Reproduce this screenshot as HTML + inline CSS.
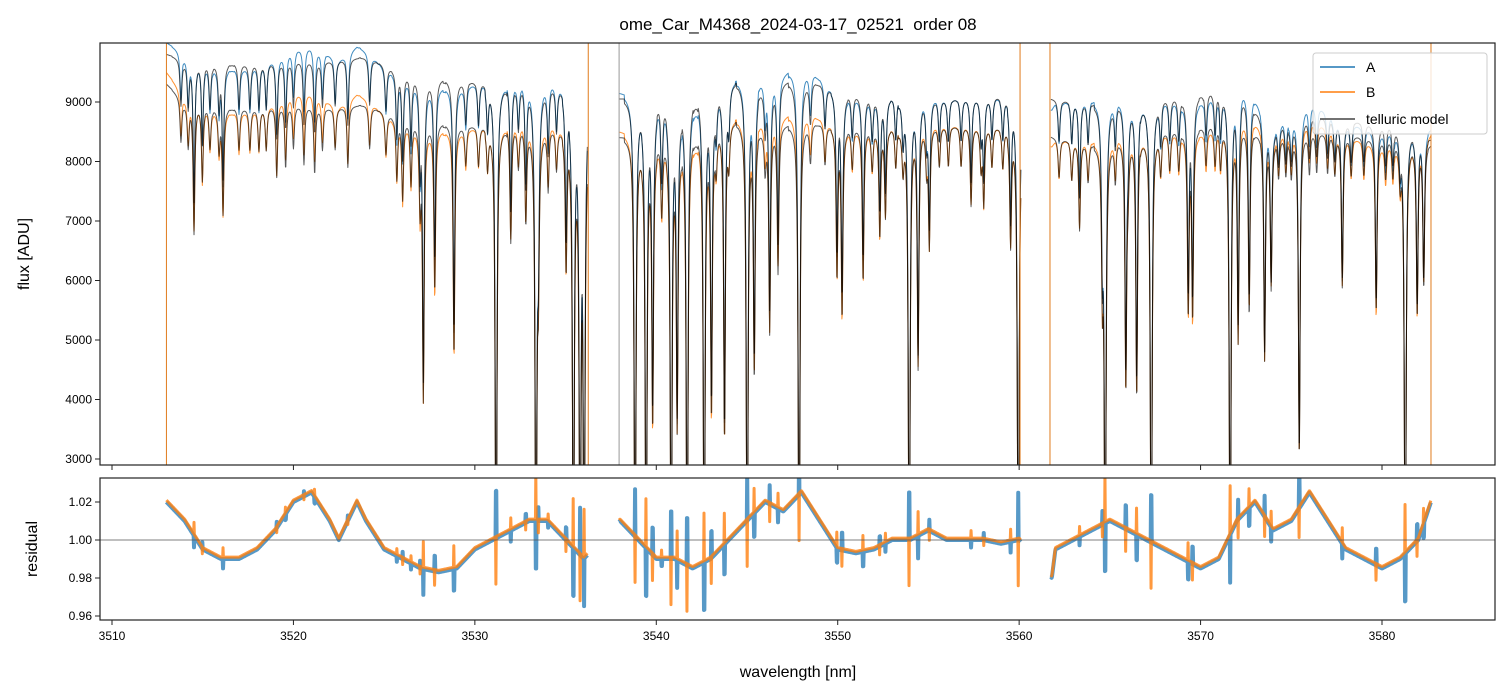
<!DOCTYPE html>
<html><head><meta charset="utf-8">
<style>
html,body{margin:0;padding:0;background:#fff;}
svg{display:block;font-family:"Liberation Sans","DejaVu Sans",sans-serif;}
</style></head>
<body>
<svg id="chart" width="1510" height="696" viewBox="0 0 1510 696" xmlns="http://www.w3.org/2000/svg">
<defs>
<clipPath id="clipTop"><rect x="100" y="43" width="1395" height="422"/></clipPath>
<clipPath id="clipBot"><rect x="100" y="478" width="1395" height="142"/></clipPath>
</defs>
<text x="798" y="30" text-anchor="middle" font-size="17" fill="#000" style="white-space:pre">ome_Car_M4368_2024-03-17_02521  order 08</text>
<g id="topG" clip-path="url(#clipTop)"></g>
<g id="botG" clip-path="url(#clipBot)"></g>
<g id="axes"></g>
<text transform="translate(29,254) rotate(-90)" text-anchor="middle" font-size="16">flux [ADU]</text>
<text transform="translate(37,549) rotate(-90)" text-anchor="middle" font-size="16">residual</text>
<text x="798" y="677" text-anchor="middle" font-size="16">wavelength [nm]</text>
<g>
<rect x="1313" y="53" width="174" height="81" rx="3" fill="#fff" fill-opacity="0.8" stroke="#ccc" stroke-width="1"/>
<line x1="1320" y1="67" x2="1355" y2="67" stroke="#1f77b4" stroke-width="1.5"/>
<text x="1366" y="72" font-size="14">A</text>
<line x1="1320" y1="92" x2="1355" y2="92" stroke="#ff7f0e" stroke-width="1.5"/>
<text x="1366" y="97" font-size="14">B</text>
<line x1="1320" y1="119" x2="1355" y2="119" stroke="#444" stroke-width="1.5"/>
<text x="1366" y="124" font-size="14">telluric model</text>
</g>
</svg>
<script>
// ---- data ----
const segments = [[3513.0,3536.2],[3537.95,3560.1],[3561.75,3582.7]];
const contA = [[3513,9800],[3514,9700],[3516,9650],[3518,9650],[3520,9700],[3522,9700],[3524,9750],[3526,9500],[3528,9400],[3530,9350],[3532,9300],[3534,9250],[3536,9200],[3538,9050],[3540,9050],[3542,9100],[3544,9350],[3546,9250],[3548,9400],[3550,9200],[3552,9100],[3554,9100],[3556,9050],[3558,9100],[3560,9100],[3562,9050],[3564,9000],[3566,9000],[3568,9050],[3570,9150],[3572,9250],[3574,8600],[3576,8800],[3578,8700],[3580,8650],[3582,8600],[3582.7,8400]];
const contB = [[3513,9300],[3514,9000],[3516,8900],[3518,8900],[3520,8950],[3522,8900],[3524,8950],[3526,8700],[3528,8650],[3530,8600],[3532,8600],[3534,8550],[3536,8500],[3538,8400],[3540,8350],[3542,8450],[3544,8700],[3546,8550],[3548,8650],[3550,8600],[3552,8550],[3554,8600],[3556,8600],[3558,8600],[3560,8550],[3562,8400],[3564,8300],[3566,8400],[3568,8500],[3570,8600],[3572,8650],[3574,8400],[3576,8500],[3578,8450],[3580,8400],[3582,8350],[3582.7,8300]];
// absorption lines: [wavelength nm, minimum flux of B in ADU]
const lines = [[3514.52,6800],[3514.98,7690],[3516.12,7130],[3519.08,7740],[3519.57,7900],[3520.58,7950],[3521.17,7800],[3523.0,7900],[3525.7,7700],[3526.02,7370],[3526.48,7600],[3526.98,7300],[3527.16,3990],[3527.79,5800],[3528.85,4720],[3531.17,0],[3531.98,6630],[3532.81,6980],[3533.37,0],[3533.5,6090],[3534.04,7500],[3535.03,6180],[3535.43,0],[3535.8,0],[3536.02,0],
[3538.83,0],[3539.44,0],[3539.8,3540],[3540.3,7135],[3540.82,0],[3541.15,3540],[3541.7,0],[3542.64,0],[3543.04,3710],[3543.76,3270],[3545.01,0],[3545.4,4380],[3546.25,5120],[3546.71,6130],[3547.87,0],[3549.96,6060],[3550.24,5390],[3551.4,5960],[3552.32,6730],[3552.63,7070],[3553.94,0],[3554.43,4550],[3555.05,6560],[3557.35,7240],[3558.05,7300],[3559.53,6630],[3559.95,0],
[3563.33,6850],[3564.59,5890],[3564.74,0],[3565.88,4160],[3566.48,3990],[3567.28,0],[3569.32,5450],[3569.56,5390],[3571.63,0],[3572.07,5000],[3572.68,5390],[3573.53,4670],[3573.89,5890],[3575.44,3000],[3577.81,5890],[3579.68,5450],[3581.28,0],[3581.94,5390],[3582.3,5890]];
const shallow = [3513.8,3514.2,3515.4,3515.9,3517.0,3517.6,3518.1,3518.5,3520.0,3521.6,3522.3,3524.2,3525.1,3529.5,3530.2,3530.7,3532.4,3534.5,3543.3,3544.0,3546.0,3548.5,3549.3,3550.8,3551.9,3553.2,3553.6,3554.9,3555.6,3556.1,3556.8,3557.9,3558.5,3559.1,3562.2,3562.9,3563.8,3565.3,3566.0,3567.8,3568.3,3568.8,3570.3,3570.8,3571.1,3574.3,3574.7,3575.0,3576.0,3576.4,3577.0,3577.4,3578.3,3579.0,3580.2,3580.6,3581.0];
const residKnots = [[3513,1.02],[3514,1.01],[3515,0.995],[3516,0.99],[3517,0.99],[3518,0.995],[3519,1.005],[3520,1.02],[3521,1.025],[3522,1.01],[3522.5,1.0],[3523,1.01],[3523.5,1.02],[3524,1.01],[3525,0.995],[3526,0.99],[3527,0.985],[3528,0.983],[3529,0.985],[3530,0.995],[3531,1.0],[3532,1.005],[3533,1.01],[3534,1.01],[3535,1.0],[3536,0.99],[3538,1.01],[3539,1.0],[3540,0.99],[3541,0.99],[3542,0.985],[3543,0.99],[3544,1.0],[3545,1.01],[3546,1.02],[3547,1.015],[3548,1.025],[3549,1.01],[3550,0.995],[3551,0.993],[3552,0.995],[3553,1.0],[3554,1.0],[3555,1.005],[3556,1.0],[3557,1.0],[3558,1.0],[3559,0.998],[3560,1.0],[3561.8,0.98],[3562,0.995],[3563,1.0],[3564,1.005],[3565,1.01],[3566,1.005],[3567,1.0],[3568,0.995],[3569,0.99],[3570,0.985],[3571,0.99],[3572,1.01],[3573,1.02],[3574,1.005],[3575,1.01],[3576,1.025],[3577,1.01],[3578,0.995],[3579,0.99],[3580,0.985],[3581,0.99],[3582,1.0],[3582.7,1.02]];
const edgeLinesB = [3513.0,3536.25,3560.05,3561.7,3582.7];
const edgeLinesGray = [3537.95];
const xTicks = [3510,3520,3530,3540,3550,3560,3570,3580];
const yTicksTop = [3000,4000,5000,6000,7000,8000,9000];
const yTicksBot = [0.96,0.98,1.00,1.02];

// ---- scales ----
const X0=100,X1=1495;
const xs = w => 112 + (w-3510)*1270/70;
const ysT = v => 102 + (9000-v)*0.0595;
const ysB = v => 540 + (1.0-v)*1900;
const NS="http://www.w3.org/2000/svg";
function interp(k,w){ if(w<=k[0][0])return k[0][1]; for(let i=1;i<k.length;i++){ if(w<=k[i][0]){const a=k[i-1],b=k[i];return a[1]+(b[1]-a[1])*(w-a[0])/(b[0]-a[0]);}} return k[k.length-1][1]; }
function trans(w){ let t=1;
  for(const L of lines){ const d=w-L[0]; if(Math.abs(d)>0.6)continue; const f=Math.max(0,L[1]/interp(contB,L[0])); const g=0.055; t*=1-(1-f)/(1+(d/g)*(d/g)); }
  for(const c of shallow){ const d=w-c; if(Math.abs(d)>0.5)continue; const g=0.06; t*=1-0.08/(1+(d/g)*(d/g)); }
  return Math.max(t,0); }
function spike(w,sgn){ let s=0; lines.forEach((L,i)=>{ const d=Math.abs(w-L[0]); if(d<0.012){ const f=L[1]/interp(contB,L[0]); s+=(i%2?1:-1)*sgn*(1-f)*0.025; } }); return s; }
function path(g,d,stroke,sw,op,name){ const p=document.createElementNS(NS,'path'); p.setAttribute('d',d); p.setAttribute('fill','none'); p.setAttribute('stroke',stroke); p.setAttribute('stroke-width',sw); p.setAttribute('stroke-opacity',op); p.setAttribute('stroke-linejoin','round');
  
  
  g.appendChild(p); }
const topG=document.getElementById('topG'), botG=document.getElementById('botG'), axes=document.getElementById('axes');
let dA='',dB='',dMA='',dMB='',rA='',rB='';
const step=0.02;
segments.forEach(s=>{ let first=true;
  for(let w=s[0]; w<=s[1]+1e-9; w+=step){
    const t=trans(w), r=interp(residKnots,w);
    const mA=interp(contA,w)*t, mB=interp(contB,w)*t;
    const resA=r+spike(w,1), resB=r+0.001+spike(w+0.006,-1);
    const vA=mA*resA, vB=mB*resB;
    const c=first?'M':'L', x=xs(w).toFixed(2);
    dA+=c+x+' '+ysT(vA).toFixed(1); dB+=c+x+' '+ysT(vB).toFixed(1);
    dMA+=c+x+' '+ysT(mA).toFixed(1); dMB+=c+x+' '+ysT(mB).toFixed(1);
    rA+=c+x+' '+ysB(resA).toFixed(1); rB+=c+x+' '+ysB(resB).toFixed(1);
    first=false; } });
path(topG,dA,'#1f77b4',1.0,0.85,'series-a-flux');
path(topG,dB,'#ff7f0e',1.0,0.85,'series-b-flux');
path(topG,dMA,'#000',1.0,0.65,'telluric-model-a');
path(topG,dMB,'#000',1.0,0.65,'telluric-model-b');
edgeLinesB.forEach(w=>{ const l=document.createElementNS(NS,'line'); l.setAttribute('x1',xs(w)); l.setAttribute('x2',xs(w)); l.setAttribute('y1',43); l.setAttribute('y2',465); l.setAttribute('stroke','#e07b1c'); l.setAttribute('stroke-width',1);
  
  
  topG.appendChild(l); });
edgeLinesGray.forEach(w=>{ const l=document.createElementNS(NS,'line'); l.setAttribute('x1',xs(w)); l.setAttribute('x2',xs(w)); l.setAttribute('y1',43); l.setAttribute('y2',465); l.setAttribute('stroke','#999'); l.setAttribute('stroke-width',1);
  
  
  topG.appendChild(l); });
path(botG,rA,'#1f77b4',4,0.75,'series-a-residual');
path(botG,rB,'#ff7f0e',3,0.8,'series-b-residual');
{ const l=document.createElementNS(NS,'line'); l.setAttribute('x1',X0); l.setAttribute('x2',X1); l.setAttribute('y1',ysB(1)); l.setAttribute('y2',ysB(1)); l.setAttribute('stroke','#555'); l.setAttribute('stroke-width',0.8);
  
  
  botG.appendChild(l); }
function rect(x,y,w,h,name){ const r=document.createElementNS(NS,'rect'); r.setAttribute('x',x); r.setAttribute('y',y); r.setAttribute('width',w); r.setAttribute('height',h); r.setAttribute('fill','none'); r.setAttribute('stroke','#222'); r.setAttribute('stroke-width',1.2);
  
  
  axes.appendChild(r); }
rect(100,43,1395,422,'flux-axes-frame'); rect(100,478,1395,142,'residual-axes-frame');
function tick(x1,y1,x2,y2){ const l=document.createElementNS(NS,'line'); l.setAttribute('x1',x1); l.setAttribute('y1',y1); l.setAttribute('x2',x2); l.setAttribute('y2',y2); l.setAttribute('stroke','#222'); l.setAttribute('stroke-width',1);
  
  
  axes.appendChild(l); }
function label(x,y,txt,anchor,name){ const t=document.createElementNS(NS,'text'); t.setAttribute('x',x); t.setAttribute('y',y); t.setAttribute('text-anchor',anchor); t.setAttribute('font-size','12'); t.textContent=txt;
  
  
  axes.appendChild(t); }
xTicks.forEach(v=>{ const x=xs(v); tick(x,465,x,470); tick(x,620,x,625); label(x,640,String(v),'middle','x-tick-label'); });
yTicksTop.forEach(v=>{ const y=ysT(v); tick(95,y,100,y); label(92,y+4,String(v),'end','y-tick-label-flux'); });
yTicksBot.forEach(v=>{ const y=ysB(v); tick(95,y,100,y); label(92,y+4,v.toFixed(2),'end','y-tick-label-residual'); });
</script>
</body></html>
